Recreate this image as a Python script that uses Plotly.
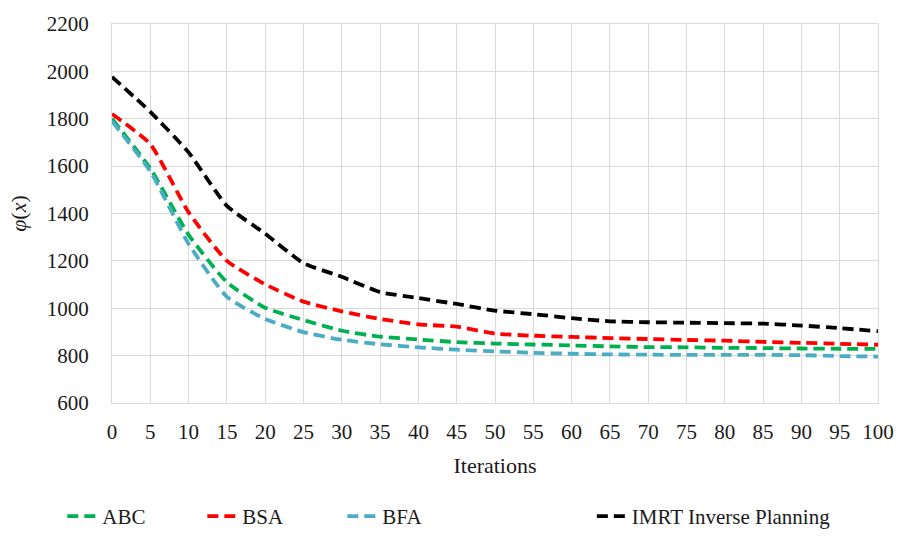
import plotly.graph_objects as go

iterations = list(range(0, 101, 5))
abc = [1800, 1590, 1310, 1110, 1002, 950, 905, 880, 868, 857, 851, 847, 843, 839, 836, 835, 833, 832, 830, 829, 828]
bsa = [1820, 1693, 1405, 1200, 1101, 1028, 987, 955, 932, 922, 893, 884, 879, 874, 870, 866, 863, 858, 854, 850, 846]
bfa = [1790, 1578, 1272, 1048, 955, 899, 867, 848, 835, 825, 818, 812, 808, 805, 804, 803, 803, 803, 802, 798, 796]
imrt = [1977, 1829, 1658, 1432, 1315, 1190, 1133, 1068, 1043, 1018, 990, 975, 958, 945, 941, 939, 937, 935, 927, 916, 903]

series = [
    ("ABC", abc, "#00B050", "legend"),
    ("BSA", bsa, "#FF0000", "legend"),
    ("BFA", bfa, "#4BACC6", "legend"),
    ("IMRT Inverse Planning", imrt, "#000000", "legend2"),
]

FF = "Times New Roman"
txt = "#1a1a1a"
fig = go.Figure()
for name, vals, color, lg in series:
    fig.add_trace(go.Scatter(
        x=iterations, y=vals, name=name, mode="lines",
        line=dict(color=color, width=3.8, dash="11px,6px", shape="spline", smoothing=0.5),
        legend=lg,
    ))

W, H = 906, 550
L, R, T, B = 112, 23, 22, 147
pw = W - L - R
ph = H - T - B

fig.update_layout(
    width=W, height=H,
    margin=dict(l=L, r=R, t=T, b=B),
    paper_bgcolor="white", plot_bgcolor="white",
    showlegend=True,
    legend=dict(orientation="h", x=(62 - L) / pw, xanchor="left",
                y=-(517 - (T + ph)) / ph, yanchor="middle",
                entrywidth=95, entrywidthmode="pixels",
                font=dict(family=FF, size=21, color=txt),
                bgcolor="rgba(0,0,0,0)"),
    legend2=dict(orientation="h", x=(595 - L) / pw, xanchor="left",
                 y=-(517 - (T + ph)) / ph, yanchor="middle",
                 font=dict(family=FF, size=21, color=txt),
                 bgcolor="rgba(0,0,0,0)"),
    xaxis=dict(
        range=[0, 100], tickmode="array", tickvals=iterations,
        ticktext=[str(v) for v in iterations],
        showgrid=True, gridcolor="#D9D9D9", gridwidth=1,
        showline=True, linecolor="#D9D9D9", linewidth=1, mirror=True,
        zeroline=False, ticks="", ticklabelstandoff=10,
        title=dict(text="Iterations", standoff=14, font=dict(family=FF, size=22, color=txt)),
        tickfont=dict(family=FF, size=21, color=txt),
    ),
    yaxis=dict(
        range=[600, 2200], dtick=200, tick0=600,
        showgrid=True, gridcolor="#D9D9D9", gridwidth=1,
        showline=True, linecolor="#D9D9D9", linewidth=1, mirror=True,
        zeroline=False, ticks="", ticklabelstandoff=18,
        title=dict(text="<i>φ</i>(<i>x</i>)", standoff=14, font=dict(family=FF, size=22, color=txt)),
        tickfont=dict(family=FF, size=21, color=txt),
    ),
)

fig.write_html("out.html")
